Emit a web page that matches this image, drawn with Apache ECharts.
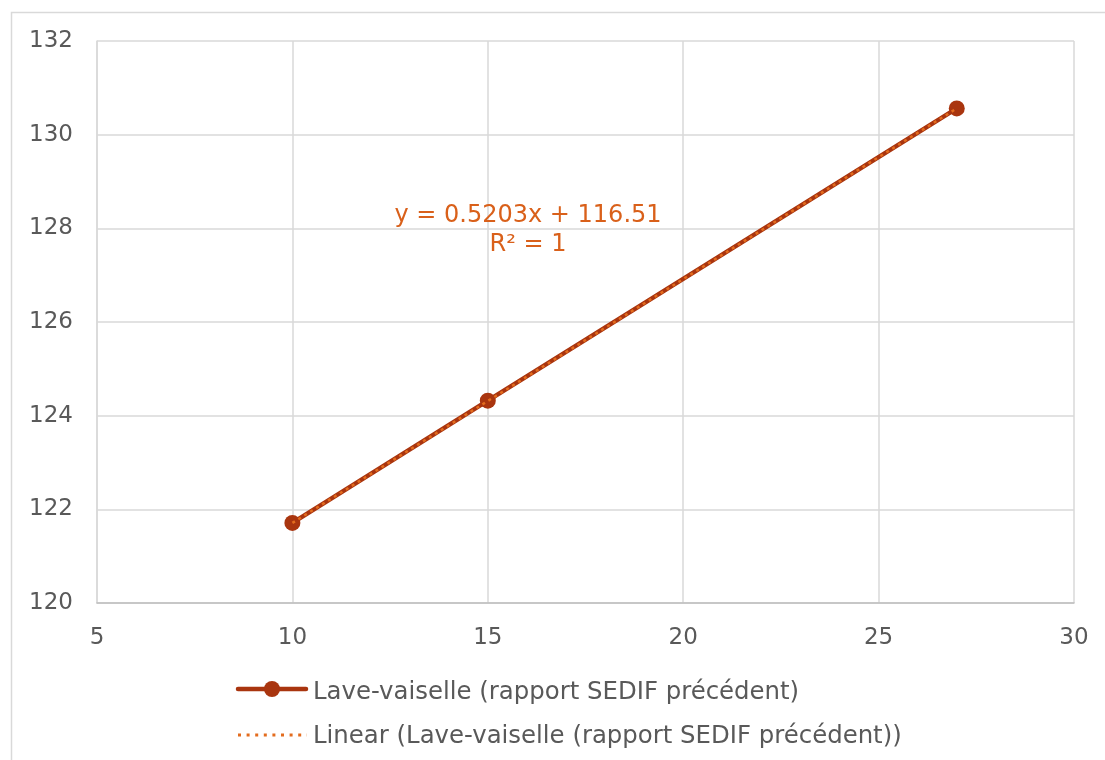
<!DOCTYPE html>
<html>
<head>
<meta charset="utf-8">
<script src="https://cdn.jsdelivr.net/npm/echarts@6/dist/echarts.min.js"></script>
<style>html,body{margin:0;padding:0;background:#fff}#c{width:1105px;height:760px}</style>
</head>
<body>
<div id="c"></div>
<script>
const xValues = [10, 15, 27];
const yValues = [121.71, 124.32, 130.56];
const trendX = [10, 27];
const trendY = [121.71, 130.56];
const seriesName = 'Lave-vaiselle (rapport SEDIF précédent)';
const trendName = 'Linear (Lave-vaiselle (rapport SEDIF précédent))';
const equationLines = ['y = 0.5203x + 116.51', 'R² = 1'];

const FONT = 'DejaVu Sans, Verdana, sans-serif';
const MAIN = '#a9350f';
const TREND = '#e36c1e';
const chart = echarts.init(document.getElementById('c'), null, {renderer: 'canvas'});
chart.setOption({
  animation: false,
  backgroundColor: '#fff',
  textStyle: {fontFamily: FONT},
  grid: {left: 97, right: 31, top: 41, bottom: 157, containLabel: false},
  xAxis: {
    type: 'value', min: 5, max: 30, interval: 5,
    axisLine: {show: true, lineStyle: {color: '#bfbfbf', width: 1.5}},
    axisTick: {show: false},
    splitLine: {show: true, lineStyle: {color: '#d9d9d9', width: 1.5}},
    axisLabel: {color: '#595959', fontSize: 23, fontFamily: FONT, margin: 24}
  },
  yAxis: {
    type: 'value', min: 120, max: 132, interval: 2,
    axisLine: {show: true, lineStyle: {color: '#d9d9d9', width: 1.5}},
    axisTick: {show: false},
    splitLine: {show: true, lineStyle: {color: '#d9d9d9', width: 1.5}},
    axisLabel: {color: '#595959', fontSize: 23, fontFamily: FONT, margin: 24}
  },
  legend: {
    orient: 'vertical', left: 237, top: 674, itemWidth: 70, itemHeight: 28, itemGap: 18,
    textStyle: {color: '#595959', fontSize: 24.4, fontFamily: FONT, padding: [0, 0, 0, -4]},
    data: [
      {name: seriesName, icon: 'none'},
      {name: trendName, icon: 'none'}
    ]
  },
  series: [
    {
      name: seriesName, type: 'line',
      data: xValues.map((x, i) => [x, yValues[i]]),
      lineStyle: {color: MAIN, width: 4.5},
      itemStyle: {color: MAIN},
      symbol: 'circle', symbolSize: 16, z: 2
    },
    {
      name: trendName, type: 'line',
      data: trendX.map((x, i) => [x, trendY[i]]),
      lineStyle: {color: TREND, width: 2.5, type: [3, 4]},
      itemStyle: {color: TREND},
      symbol: 'none', z: 3
    }
  ],
  graphic: [
    {type: 'rect', shape: {x: 11.5, y: 12.5, width: 1120, height: 780},
     style: {fill: 'none', stroke: '#d9d9d9', lineWidth: 1.5}, silent: true, z: -1},
    {type: 'text', x: 528, y: 201, z: 10,
     style: {text: equationLines.join('\n'), fill: '#d9601a', fontSize: 24, fontFamily: FONT,
             align: 'center', lineHeight: 29}},
    {type: 'line', shape: {x1: 238, y1: 689, x2: 306, y2: 689}, z: 10,
     style: {stroke: MAIN, lineWidth: 4.5, lineCap: 'round'}},
    {type: 'circle', shape: {cx: 272, cy: 689, r: 8}, z: 11, style: {fill: MAIN}},
    {type: 'line', shape: {x1: 238, y1: 735, x2: 307, y2: 735}, z: 10,
     style: {stroke: TREND, lineWidth: 3, lineDash: [3, 5.6]}}
  ]
});
</script>
</body>
</html>
